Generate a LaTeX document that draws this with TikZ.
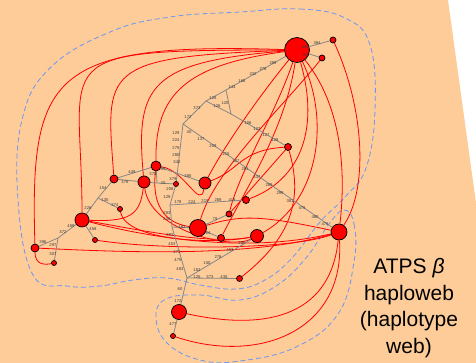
\documentclass[tikz,border=0pt]{standalone}
\usepackage{fontspec}
\setmainfont{Liberation Sans}
\usetikzlibrary{positioning,backgrounds}
\definecolor{peach}{RGB}{253,204,153}
\definecolor{medgray}{RGB}{135,135,135}
\definecolor{webblue}{RGB}{110,150,245}
\definecolor{numgray}{RGB}{60,60,60}

\begin{document}
\begin{tikzpicture}[x=1pt,y=-1pt]
\tikzset{
  hap/.style={circle,draw=black,fill=red,line width=0.7pt,inner sep=0pt,minimum size=#1},
  medlink/.style={draw=medgray,line width=0.8pt},
  redlink/.style={draw=red,line width=0.8pt},
  webline/.style={draw=webblue,line width=0.8pt,dash pattern=on 5pt off 3pt},
  numlbl/.style={font=\fontsize{4.2}{4.2}\selectfont,text=numgray,inner sep=0pt}
}
\useasboundingbox (0,0) rectangle (476,363);
% haplotypes
\node[hap=25pt] (h_A) at (297,50) {};
\node[hap=6pt] (h_B) at (333,40) {};
\node[hap=6pt] (h_C) at (322,58) {};
\node[hap=7pt] (h_D) at (288,147) {};
\node[hap=16pt] (h_E) at (339,232) {};
\node[hap=13pt] (h_F) at (257,236) {};
\node[hap=7pt] (h_G) at (246,200) {};
\node[hap=6pt] (h_H) at (239.5,278.5) {};
\node[hap=17pt] (h_I) at (198,228) {};
\node[hap=6pt] (h_J) at (229,214) {};
\node[hap=7pt] (h_K) at (221,238) {};
\node[hap=12pt] (h_L) at (205,183) {};
\node[hap=10pt] (h_M) at (156,166) {};
\node[hap=12pt] (h_N) at (144,182) {};
\node[hap=5pt] (h_O) at (176,184) {};
\node[hap=8pt] (h_P) at (114,179) {};
\node[hap=5pt] (h_Q) at (120,209) {};
\node[hap=14pt] (h_R) at (82,220) {};
\node[hap=5pt] (h_S) at (95,240) {};
\node[hap=8pt] (h_T) at (35,248) {};
\node[hap=5pt] (h_U) at (54,263) {};
\node[hap=15pt] (h_V) at (179,312) {};
\node[hap=5pt] (h_W) at (173,336) {};
% median vectors
\coordinate (m_a) at (226,90);
\coordinate (m_b) at (206,101);
\coordinate (m_c) at (231,114);
\coordinate (m_d) at (183,124);
\coordinate (m_e) at (170,205);
\coordinate (m_f) at (157,183);
\coordinate (m_g) at (172,227);
\coordinate (m_h) at (187,278);
\coordinate (m_i) at (98,198);
\coordinate (m_k) at (58,238);

\node[align=center,font=\fontsize{21}{26.5}\selectfont,inner sep=0pt,anchor=north] (title) at (409,258.5)
  {ATPS \textit{β}\\haploweb\\(haplotype\\web)};

\begin{pgfonlayer}{background}
\fill[peach] (0,0) -- (448,0) -- (476,203) -- (476,363) -- (0,363) -- cycle;
% fields for recombination
\draw[webline] plot[smooth cycle,tension=0.7] coordinates {(240,12) (300,9) (345,18) (370,45) (375,110) (366,168)
  (345,197) (320,222) (292,258) (265,280) (236,289) (200,285) (167,278) (133,280) (100,286) (67,286) (33,275)
  (18,200) (22,120) (50,68) (110,32) (170,17)};
\draw[webline] plot[smooth cycle,tension=0.7] coordinates {(344,210) (354,224) (354,262) (338,314) (296,347)
  (240,361) (200,360) (167,343) (156,317) (166,299) (200,295) (240,300) (276,286) (306,258) (329,224)};
% red links between haplotypes
\draw[redlink] (h_A) .. controls (50,42) and (30,75) .. (h_T);
\draw[redlink] (h_A) .. controls (40,50) and (82,55) .. (h_R);
\draw[redlink] (h_A) .. controls (100,57) and (106,70) .. (h_P);
\draw[redlink] (h_A) .. controls (150,62) and (135,85) .. (h_N);
\draw[redlink] (h_A) .. controls (185,65) and (155,95) .. (h_M);
\draw[redlink] (h_A) .. controls (260,95) and (225,145) .. (h_L);
\draw[redlink] (h_C) .. controls (280,110) and (215,170) .. (h_I);
\draw[redlink] (h_A) .. controls (275,115) and (240,170) .. (h_J);
\draw[redlink] (h_A) .. controls (285,130) and (245,190) .. (h_K);
\draw[redlink] (h_A) .. controls (320,130) and (300,180) .. (h_G);
\draw[redlink] (h_A) .. controls (330,120) and (320,200) .. (h_F);
\draw[redlink] (h_A) .. controls (345,110) and (345,180) .. (h_E);
\draw[redlink] (h_B) .. controls (365,110) and (368,190) .. (h_E);
\draw[redlink] (h_D) -- (h_J);
\draw[redlink] (h_D) .. controls (302,195) and (295,235) .. (h_H);
\draw[redlink] (h_T) .. controls (35,265) and (45,265) .. (h_U);
\draw[redlink] (h_T) .. controls (120,252) and (250,258) .. (h_E);
\draw[redlink] (h_S) .. controls (160,250) and (290,250) .. (h_E);
\draw[redlink] (h_R) .. controls (130,222) and (140,215) .. (h_N);
\draw[redlink] (h_R) .. controls (140,230) and (210,245) .. (h_F);
\draw[redlink] (h_R) .. controls (140,235) and (240,255) .. (h_E);
\draw[redlink] (h_Q) .. controls (125,240) and (210,245) .. (h_F);
\draw[redlink] (h_M) .. controls (150,220) and (180,225) .. (h_I);
\draw[redlink] (h_N) .. controls (150,230) and (230,250) .. (h_F);
\draw[redlink] (h_M) .. controls (185,170) and (200,210) .. (h_L);
\draw[redlink] (h_L) .. controls (240,170) and (240,150) .. (h_D);
\draw[redlink] (h_I) .. controls (240,215) and (260,215) .. (h_E);
\draw[redlink] (h_V) .. controls (260,330) and (330,320) .. (h_E);
\draw[redlink] (h_W) .. controls (260,365) and (345,330) .. (h_E);
% median network
\draw[medlink] (h_A) -- (h_B);
\draw[medlink] (h_A) -- (h_C);
\draw[medlink] (h_A) -- (m_a) -- (m_b);
\draw[medlink] (m_a) -- (m_c) -- (m_b);
\draw[medlink] (m_c) -- (h_D);
\draw[medlink] (m_b) -- (m_d) -- (h_E);
\draw[medlink] (m_d) -- (h_O) -- (m_e);
\draw[medlink] (h_M) -- (h_L);
\draw[medlink] (h_P) -- (h_M);
\draw[medlink] (h_P) -- (h_N) -- (m_f) -- (h_O);
\draw[medlink] (h_M) -- (m_f);
\draw[medlink] (m_e) -- (h_G);
\draw[medlink] (m_e) -- (m_g) -- (m_h);
\draw[medlink] (m_g) -- (h_I);
\draw[medlink] (h_I) -- (h_J);
\draw[medlink] (h_I) -- (h_K);
\draw[medlink] (m_h) -- (h_H);
\draw[medlink] (m_h) -- (h_F);
\draw[medlink] (m_h) -- (h_V) -- (h_W);
\draw[medlink] (h_P) -- (m_i) -- (h_R);
\draw[medlink] (m_i) -- (h_Q);
\draw[medlink] (h_R) -- (h_S);
\draw[medlink] (h_R) -- (m_k) -- (h_T);
\draw[medlink] (m_k) -- (h_U);
\end{pgfonlayer}

% mutation positions
\foreach \x/\y/\t [count=\i] in {317/43/394, 305/47/330, 305/55/49, 273/63/299, 263/69/278, 253/74/232,
  242/81/168, 232/87/143, 213/98/128, 217/106/126, 225/103/120, 197/108/373, 188/117/172,
  248/123/106, 257/129/122, 266/135/127, 275/140/128, 176/133/129, 176/140/224, 176/148/279,
  176/155/280, 177/162/342, 189/132/40, 201/139/137, 213/146/209, 226/154/215, 236/161/327,
  245/169/281, 257/177/337, 269/185/289, 280/193/299, 290/201/381, 302/208/478, 315/217/480,
  325/224/476, 163/169/65, 188/176/285, 132/172/449, 125/182/376, 153/174/378, 163/183/40,
  173/179/379, 170/189/208, 167/197/129, 178/202/178, 192/202/224, 205/201/219, 218/200/289,
  232/200/419, 167/213/283, 167/219/238, 182/227/482, 170/235/382, 172/244/453, 177/252/473,
  178/260/475, 180/269/483, 180/289/60, 178/301/172, 173/324/477, 215/219/79, 208/233/64,
  197/277/125, 210/277/373, 224/277/435, 197/270/162, 207/263/150, 218/257/278, 230/250/453,
  242/243/280, 103/188/154, 88/208/226, 105/200/135, 115/205/374, 93/229/458, 71/226/459,
  63/232/372, 43/242/396, 53/245/297, 53/254/307}
  \node[numlbl] (n\i) at (\x,\y) {\t};
\end{tikzpicture}
\end{document}
